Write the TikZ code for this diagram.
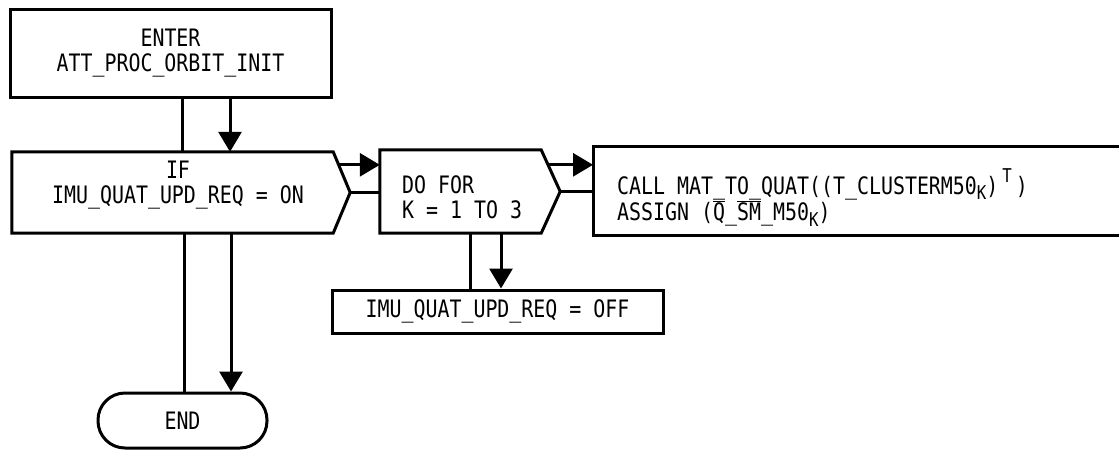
\documentclass[tikz,border=0pt]{standalone}
\usepackage{fontspec}
\setmainfont{DejaVu Sans Mono}[FakeStretch=0.83]
\usetikzlibrary{arrows.meta,calc}
\newcommand\subK{\raisebox{-0.45ex}{\fontsize{19}{19}\selectfont K}}
\newcommand\supT{\raisebox{0.9ex}{\fontsize{19}{19}\selectfont T}}
\newcommand\ovl[1]{$\overline{\hbox{#1}}$}
\begin{document}
\begin{tikzpicture}[x=1pt,y=-1pt,
  every node/.style={font=\fontsize{24}{25}\selectfont,inner sep=0pt},
  line/.style={line width=3pt},
  arr/.style={line width=3pt,-{Triangle[length=20pt,width=23pt]}},
  box/.style={draw,line width=3pt,rectangle},
  frame/.style={rectangle}]
\useasboundingbox (0,0) rectangle (1119,451);
\clip (0,0) rectangle (1119,451);
% nodes
\node[box,minimum width=321pt,minimum height=88pt,align=center] (enter) at (170.5,53) {ENTER\\ATT\_PROC\_ORBIT\_INIT};
\node[frame,minimum width=321pt,minimum height=81pt] (if) at (172.5,192.5) {};
\node[align=center] (iftxt) at (178,185) {IF\\IMU\_QUAT\_UPD\_REQ = ON};
\node[frame,minimum width=161pt,minimum height=83pt] (dofor) at (460.5,191.5) {};
\node[align=left,anchor=west] (dofortxt) at (402,197.5) {DO FOR\\K = 1 TO 3};
\node[frame,minimum width=540pt,minimum height=88pt,anchor=west] (call) at (593,191) {};
\node[align=left,anchor=west] (calltxt) at (617,197.5) {CALL MAT\_TO\_QUAT((T\_CLUSTERM50\subK)\,\supT\,)\\ASSIGN (\ovl{Q}\_\ovl{SM}\_M50\subK)};
\node[box,minimum width=331pt,minimum height=43pt] (off) at (497.5,311.5) {IMU\_QUAT\_UPD\_REQ = OFF};
\node[box,rounded corners=27pt,minimum width=169pt,minimum height=55pt] (stop) at (182.5,420.5) {END};
% chevron outlines
\coordinate (iftip) at ($(if.east)+(17,0)$);
\coordinate (dofortip) at ($(dofor.east)+(19,0)$);
\draw[line] (if.north west) -- (if.north east) -- (iftip) -- (if.south east) -- (if.south west) -- cycle;
\draw[line] (dofor.north west) -- (dofor.north east) -- (dofortip) -- (dofor.south east) -- (dofor.south west) -- cycle;
\draw[line] ($(call.north east)+(5,0)$) -- (call.north west) -- (call.south west) -- ($(call.south east)+(5,0)$);
\coordinate (ifup) at ($(if.north east)!0.32!(iftip)$);
\coordinate (doforup) at ($(dofor.north east)!0.36!(dofortip)$);
% connectors
\draw[line] ([xshift=11.5pt]enter.south) -- ([xshift=11.5pt]enter.south |- if.north);
\draw[arr] ([xshift=59.5pt]enter.south) -- ([xshift=59.5pt]enter.south |- if.north);
\draw[arr] (ifup) -- (ifup -| dofor.west);
\draw[line] (iftip) -- (iftip -| dofor.west);
\draw[arr] (doforup) -- (doforup -| call.west);
\draw[line] (dofortip) -- (dofortip -| call.west);
\draw[line] ([xshift=11.5pt]if.south) -- ([xshift=11.5pt]if.south |- stop.north);
\draw[arr] ([xshift=58.5pt]if.south) -- ([xshift=58.5pt]if.south |- stop.north);
\draw[line] ([xshift=9.5pt]dofor.south) -- ([xshift=9.5pt]dofor.south |- off.north);
\draw[arr] ([xshift=40.5pt]dofor.south) -- ([xshift=40.5pt]dofor.south |- off.north);
\end{tikzpicture}
\end{document}
